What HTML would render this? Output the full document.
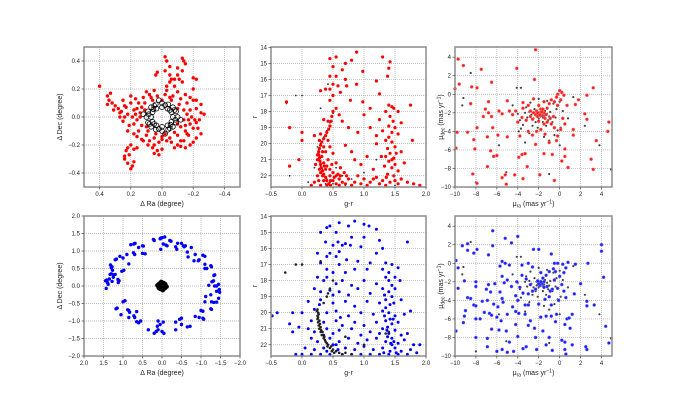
<!DOCTYPE html>
<html><head><meta charset="utf-8"><style>
html,body{margin:0;padding:0;background:#fff;}
svg{display:block;font-family:"Liberation Sans","DejaVu Sans",sans-serif;}
</style></head><body>
<svg id="fig" width="680" height="400" viewBox="0 0 680 400" xmlns="http://www.w3.org/2000/svg"></svg>
<script>
// ---------- DATA ----------
const p1Red = [[0.15,0.1],[0.12,0.14],[0.08,0.16],[0.03,0.15],[-0.02,0.16],[-0.07,0.15],[-0.12,0.13],[-0.16,0.1],[-0.18,0.05],[-0.19,0.0],[-0.18,-0.05],[-0.15,-0.1],[-0.1,-0.13],[-0.05,-0.15],[0.0,-0.14],[0.05,-0.15],[0.1,-0.13],[0.15,-0.1],[0.18,-0.05],[0.19,0.0],[0.18,0.05],[0.13,0.07],[0.11,0.1],[0.06,0.12],[0.0,0.12],[-0.06,0.12],[-0.11,0.09],[-0.14,0.05],[-0.14,-0.02],[-0.12,-0.07],[-0.08,-0.11],[-0.02,-0.12],[0.04,-0.12],[0.09,-0.1],[0.13,-0.06],[0.14,0.0],[0.14,0.03],[0.2,0.1],[0.17,0.13],[0.1,0.18],[0.05,0.19],[-0.03,0.19],[-0.1,0.18],[-0.15,0.16],[-0.2,0.12],[-0.22,0.06],[-0.21,-0.02],[-0.2,-0.08],[-0.17,-0.13],[-0.12,-0.17],[-0.06,-0.18],[0.02,-0.18],[0.08,-0.17],[0.13,-0.16],[0.18,-0.12],[0.21,-0.06],[0.22,0.02],[0.23,0.07],[0.24,0.0],[0.22,-0.1],[0.16,-0.02],[0.16,0.06],[-0.16,0.02],[-0.17,-0.02],[-0.03,0.22],[-0.05,0.25],[-0.08,0.27],[-0.1,0.3],[-0.05,0.3],[-0.02,0.33],[-0.05,0.36],[-0.03,0.4],[-0.02,0.43],[-0.13,0.42],[-0.14,0.4],[-0.15,0.38],[-0.1,0.35],[-0.11,0.27],[-0.13,0.25],[0.03,0.32],[0.04,0.3],[-0.08,0.22],[-0.2,0.28],[-0.22,0.27],[0.33,0.17],[0.35,0.15],[0.34,0.12],[0.32,0.1],[0.3,0.08],[0.35,0.09],[0.28,0.06],[0.31,0.05],[0.4,0.22],[0.24,0.08],[0.26,0.04],[0.27,0.0],[0.25,-0.03],[0.2,-0.2],[0.22,-0.22],[0.18,-0.23],[0.21,-0.27],[0.24,-0.3],[0.22,-0.33],[0.19,-0.35],[0.2,-0.37],[0.18,-0.32],[0.24,-0.28],[0.16,-0.22],[0.12,-0.17],[-0.25,0.03],[-0.27,0.02],[-0.24,-0.02],[-0.22,-0.04],[-0.25,0.09],[-0.22,0.12],[-0.23,-0.08],[-0.25,-0.12],[-0.22,-0.15],[-0.2,-0.18],[-0.18,-0.2],[-0.15,-0.22],[-0.12,-0.21],[-0.1,-0.2],[-0.08,-0.22],[-0.14,-0.17],[-0.16,-0.12],[0.05,-0.2],[0.06,-0.22],[0.03,-0.24],[0.0,-0.23],[0.02,-0.27],[0.05,-0.26],[-0.03,-0.17],[0.09,-0.2],[0.11,0.05],[0.1,-0.07],[-0.1,0.06],[-0.1,-0.05],[0.07,0.14],[-0.05,0.14],[0.0,-0.16],[0.17,0.02],[-0.18,0.14],[0.25,0.12],[0.2,0.15],[-0.06,0.27],[-0.15,-0.06],[0.16,-0.14],[-0.2,0.2],[-0.13,0.33],[0.27,0.03],[0.23,-0.24]];
const posBlack = [[0.1,0],[0.09,0.04],[0.07,0.07],[0.04,0.09],[0,0.1],[-0.04,0.09],[-0.07,0.07],[-0.09,0.04],[-0.1,0],[-0.09,-0.04],[-0.07,-0.07],[-0.04,-0.09],[0,-0.1],[0.04,-0.09],[0.07,-0.07],[0.09,-0.04],[0.07,0],[0.06,0.035],[0.035,0.06],[0,0.07],[-0.035,0.06],[-0.06,0.035],[-0.07,0],[-0.06,-0.035],[-0.035,-0.06],[0,-0.07],[0.035,-0.06],[0.06,-0.035],[0.085,0.02],[0.08,-0.05],[0.05,0.08],[-0.02,0.085],[-0.08,0.05],[-0.085,-0.02],[-0.05,-0.08],[0.02,-0.085],[0.05,-0.05],[-0.05,0.05],[0.055,0.055],[-0.055,-0.055],[0.12,0.02],[-0.12,-0.02],[0.02,0.12],[-0.02,-0.12]];
const p4Blue = [[1.45,0.15],[1.42,0.17],[1.4,0.1],[1.38,0.05],[1.43,-0.07],[1.35,0.2],[1.33,0.33],[1.3,0.35],[1.25,0.32],[1.2,0.33],[1.27,0.45],[1.3,0.52],[1.28,0.55],[1.32,0.6],[1.25,0.25],[1.28,0.13],[1.1,0.15],[1.12,0.1],[1.13,0.19],[1.2,0.75],[1.17,0.77],[1.08,0.85],[1.0,0.8],[0.98,0.45],[1.03,0.42],[0.9,0.9],[0.85,0.63],[0.73,0.95],[0.7,0.9],[0.72,1.2],[0.69,1.22],[0.8,1.18],[0.6,1.1],[0.5,1.15],[0.48,1.14],[0.5,0.93],[0.43,0.92],[0.2,1.3],[0.22,1.33],[0.05,1.35],[0.03,1.37],[0.0,1.38],[-0.07,1.4],[-0.03,1.2],[0.03,1.05],[-0.1,1.17],[-0.13,1.15],[-0.2,1.3],[-0.23,1.28],[-0.35,1.12],[-0.38,1.05],[-0.4,1.22],[-0.5,1.22],[-0.55,1.15],[-0.57,1.12],[-0.6,1.15],[-0.75,1.1],[-0.65,0.97],[-0.67,0.83],[-0.85,0.9],[-0.82,0.72],[-0.93,0.72],[-0.95,0.75],[-1.05,0.88],[-1.1,0.85],[-1.1,0.62],[-1.25,0.58],[-1.27,0.55],[-1.33,0.3],[-1.35,0.32],[-1.1,0.5],[-1.15,0.5],[-1.3,0.13],[-1.32,0.15],[-1.28,0.12],[-1.45,0.05],[-1.4,0.0],[-1.47,-0.1],[-1.48,-0.18],[-1.4,-0.15],[-1.35,0.0],[-1.2,0.02],[-1.25,-0.25],[-1.12,-0.3],[-1.1,-0.45],[-1.27,-0.45],[-1.33,-0.47],[-1.4,-0.46],[-1.45,-0.35],[-1.25,-0.65],[-1.27,-0.67],[-1.0,-0.7],[-1.05,-0.72],[-0.95,-0.9],[-1.05,-0.92],[-1.07,-0.95],[-0.85,-0.87],[-0.72,-1.15],[-0.65,-1.17],[-0.5,-1.1],[-0.45,-0.95],[-0.5,-0.92],[-0.35,-1.03],[-0.35,-1.25],[-0.05,-1.35],[0.0,-1.3],[-0.03,-1.03],[0.05,-1.1],[0.1,-1.25],[0.12,-1.15],[0.15,-1.3],[0.2,-1.35],[0.35,-1.25],[0.1,-1.0],[0.55,-1.0],[0.6,-1.05],[0.65,-1.02],[0.7,-0.9],[0.72,-0.85],[0.85,-0.7],[0.83,-0.75],[0.88,-0.68],[0.85,-0.9],[0.65,-0.73],[0.95,-0.42],[1.0,-0.45],[1.15,-0.63],[1.18,-0.65],[1.05,-0.82]];
const p2Red = [[0.5,18.0],[0.48,18.3],[0.47,18.6],[0.45,18.9],[0.43,19.1],[0.4,19.3],[0.38,19.5],[0.35,19.7],[0.32,19.9],[0.3,20.1],[0.28,20.3],[0.27,20.5],[0.27,20.7],[0.28,20.9],[0.29,21.1],[0.3,21.3],[0.31,21.5],[0.33,21.7],[0.35,21.9],[0.38,22.1],[0.4,22.3],[0.43,22.5],[0.46,22.6],[0.25,21.0],[0.32,20.8],[0.35,21.2],[0.4,21.4],[0.42,21.0],[0.45,21.6],[0.5,21.8],[0.55,22.0],[0.6,22.2],[0.65,22.4],[0.3,21.8],[0.25,22.0],[0.35,22.3],[0.45,22.0],[0.5,22.3],[0.55,22.5],[0.6,22.6],[0.7,22.5],[0.75,22.2],[0.8,22.6],[0.2,22.4],[0.15,22.6],[0.3,22.6],[0.4,22.6],[0.48,21.3],[0.38,20.5],[0.45,20.2],[0.5,20.6],[0.55,21.2],[0.62,21.5],[0.68,21.8],[0.35,20.2],[0.28,19.8],[0.42,19.8],[0.45,14.7],[0.55,14.6],[0.88,14.3],[1.3,14.6],[1.42,14.9],[0.8,14.8],[0.7,15.0],[0.5,15.2],[0.65,15.4],[0.98,15.5],[1.4,15.3],[1.38,15.8],[1.2,16.1],[0.45,15.8],[0.55,15.8],[0.7,16.0],[0.5,16.3],[0.58,16.4],[0.72,16.4],[0.88,16.3],[0.38,16.6],[0.3,16.7],[0.45,16.6],[0.62,16.8],[0.78,17.3],[0.98,17.4],[1.25,16.9],[1.1,17.8],[1.4,17.6],[1.45,17.7],[1.48,17.8],[1.35,18.0],[1.42,18.3],[1.47,18.6],[1.4,18.9],[1.5,19.0],[1.45,19.3],[1.4,19.6],[1.35,19.8],[1.45,19.9],[1.5,20.2],[1.38,20.3],[1.42,20.6],[1.35,20.8],[1.48,20.9],[1.4,21.1],[1.5,21.3],[1.33,21.4],[1.45,21.5],[1.55,21.7],[1.38,21.9],[1.48,22.0],[1.6,22.2],[1.3,22.3],[1.42,22.4],[1.55,22.5],[1.7,22.4],[1.25,22.5],[1.2,22.1],[1.1,22.4],[1.0,22.2],[0.95,22.5],[0.9,22.0],[1.8,22.5],[1.9,22.6],[1.75,17.6],[1.78,19.8],[1.6,20.5],[1.65,21.2],[1.15,21.6],[1.05,20.8],[0.95,21.3],[0.85,21.0],[0.8,20.5],[0.7,20.1],[0.9,19.3],[0.75,19.0],[0.65,18.6],[0.6,18.2],[0.55,17.8],[0.5,17.0],[0.45,17.3],[0.35,18.5],[0.2,19.5],[0.0,19.3],[0.0,19.8],[-0.05,21.0],[-0.2,21.4],[-0.25,17.4],[-0.2,19.0],[1.25,18.5],[1.3,19.2],[1.2,20.0],[1.28,20.8],[1.2,19.5],[1.0,18.2],[1.1,19.0],[1.6,18.7],[1.55,19.4],[1.55,18.0],[0.22,21.3],[0.28,21.6],[0.36,21.4],[0.52,22.1],[0.62,22.0],[0.72,22.0],[1.45,21.0],[1.52,20.6],[1.36,22.1],[0.33,22.0],[0.27,22.3],[0.38,21.6],[0.46,22.3],[0.58,21.9],[0.85,22.4],[1.05,22.6],[1.15,22.2],[1.35,22.6],[1.5,22.3],[0.25,20.7],[0.33,20.5],[0.3,19.4],[0.42,18.6]];
const p2Black = [[0.5,18.1],[0.45,18.7],[0.4,19.2],[0.35,19.6],[0.3,20.0],[0.27,20.4],[0.28,20.8],[0.3,21.2],[0.33,21.6],[0.36,21.9],[0.4,22.2],[0.45,22.4],[0.5,22.5],[0.6,22.6],[0.7,22.6],[0.25,20.2],[0.26,20.6],[0.3,21.4],[0.35,22.0],[-0.1,17.0],[0.0,17.0],[-0.25,17.5],[0.3,17.8],[0.42,16.3],[0.55,21.5],[0.65,22.0],[0.38,22.5],[1.0,21.8],[0.8,22.2],[1.2,21.0],[1.5,22.6],[0.2,21.5],[-0.2,22.0],[0.1,22.4]];
const p5Blue = [[0.85,14.3],[0.6,14.4],[0.45,14.6],[0.4,14.7],[0.75,14.6],[1.0,14.5],[1.08,14.6],[1.2,14.8],[0.3,15.0],[0.55,15.0],[0.8,15.3],[1.0,15.3],[1.25,15.5],[1.7,15.6],[0.38,15.6],[0.5,15.8],[0.58,15.6],[0.65,15.8],[0.7,15.7],[0.78,15.8],[0.95,15.9],[1.3,16.0],[1.2,16.3],[0.25,16.3],[0.4,16.5],[0.45,16.3],[0.55,16.5],[0.6,16.2],[0.72,16.7],[0.9,16.8],[1.1,16.9],[1.35,16.9],[1.45,17.0],[0.3,16.9],[0.4,17.3],[0.5,17.5],[0.6,17.0],[0.7,17.5],[0.85,17.3],[1.05,17.3],[1.3,17.3],[1.4,17.5],[1.5,17.8],[1.55,17.2],[0.25,17.8],[0.35,18.0],[0.55,18.2],[0.65,18.0],[0.8,18.3],[1.0,18.0],[1.2,18.2],[1.35,17.8],[1.45,18.3],[1.58,18.0],[0.2,18.5],[0.3,18.7],[0.45,18.6],[0.6,18.7],[0.75,18.9],[0.9,18.5],[1.1,18.8],[1.3,18.5],[1.4,18.7],[1.5,18.5],[1.45,19.0],[0.1,19.3],[0.3,19.2],[0.5,19.4],[0.7,19.3],[0.85,19.6],[1.05,19.3],[1.25,19.4],[1.35,19.2],[1.48,19.4],[1.6,19.2],[0.0,20.0],[-0.15,20.0],[-0.48,20.2],[-0.4,20.0],[0.2,19.8],[0.4,20.0],[0.55,19.9],[0.75,20.2],[0.95,20.0],[1.15,20.1],[1.3,19.9],[1.4,20.0],[1.5,20.2],[1.65,20.1],[1.75,19.9],[0.15,20.5],[0.35,20.6],[0.55,20.5],[0.65,20.8],[0.85,20.6],[1.0,20.8],[1.2,20.6],[1.35,20.5],[1.45,20.7],[1.55,20.6],[-0.2,20.7],[-0.05,20.9],[0.1,21.0],[0.2,21.2],[0.4,21.0],[0.5,21.3],[0.6,21.1],[0.8,21.0],[0.95,21.4],[1.1,21.2],[1.3,21.0],[1.4,21.3],[1.5,21.1],[1.6,21.4],[1.7,21.3],[-0.15,21.2],[0.15,21.6],[0.25,21.8],[0.45,21.6],[0.6,21.8],[0.75,21.6],[0.9,21.9],[1.05,21.7],[1.2,21.6],[1.35,21.8],[1.45,21.6],[1.55,21.9],[1.65,21.7],[1.8,22.0],[1.9,22.0],[0.05,22.2],[0.2,22.3],[0.35,22.2],[0.55,22.0],[0.7,22.2],[0.85,22.3],[1.0,22.1],[1.15,22.3],[1.3,22.2],[1.42,22.4],[1.5,22.2],[1.6,22.4],[1.75,22.3],[1.85,22.5],[-0.1,22.6],[0.0,22.6],[0.15,22.6],[0.3,22.6],[0.45,22.6],[0.65,22.6],[0.8,22.6],[0.95,22.6],[1.1,22.6],[1.25,22.6],[1.4,22.6],[1.55,22.6],[1.7,22.6],[1.35,19.7],[1.42,20.4],[1.38,21.5],[1.45,22.0],[1.4,18.0],[1.33,18.9],[0.4,17.8],[0.5,18.9],[0.28,19.5],[1.38,20.9],[1.48,21.8],[1.32,22.5],[1.42,19.5],[0.58,22.3],[0.4,22.4],[1.25,21.3],[1.37,21.1],[1.47,20.4],[1.43,21.9],[1.52,22.5],[1.33,20.2],[0.5,22.0],[0.62,20.3],[0.35,21.4]];
const p5Black = [[0.25,19.8],[0.26,20.0],[0.25,20.2],[0.25,20.4],[0.26,20.6],[0.27,20.8],[0.28,21.0],[0.3,21.2],[0.32,21.4],[0.35,21.6],[0.38,21.8],[0.42,22.0],[0.45,22.2],[0.5,22.3],[0.55,22.4],[0.6,22.5],[0.7,22.5],[0.8,22.6],[0.27,20.1],[0.28,20.5],[0.3,20.9],[0.33,21.2],[0.36,21.5],[0.4,21.9],[0.47,22.1],[0.52,22.5],[0.4,19.0],[0.45,18.5],[0.5,18.0],[0.42,18.8],[0.35,19.4],[0.0,17.0],[-0.1,17.0],[-0.27,17.5],[0.3,16.8],[1.35,21.3],[1.4,21.2],[1.0,22.0],[0.7,21.5],[0.24,19.9],[0.26,20.3],[0.29,20.7],[0.31,21.1],[0.34,21.4],[0.37,21.7],[0.41,22.1],[0.48,22.4],[0.65,22.6]];
const p3Red = [[-9.7,3.8],[-9.2,3.1],[-7.5,2.7],[-4.1,2.8],[-2.3,4.8],[-9.6,1.1],[-8.4,0.8],[-7.9,0.7],[-6.5,1.3],[-2.4,1.6],[-10,0.6],[-8.5,-1.0],[-6.8,-0.8],[-5.0,-0.7],[-7.1,-1.6],[-6.8,-2.0],[-5.8,-1.8],[-4.8,-1.8],[-7.3,-2.4],[-6.5,-2.4],[-5.5,-2.1],[-9.8,-4.1],[-8.8,-4.1],[-7.9,-3.6],[-6.4,-3.6],[-8.2,-4.9],[-9.9,-5.8],[-8.1,-5.9],[-6.9,-4.6],[-5.9,-4.4],[-5.0,-4.6],[-6.6,-6.1],[-6.3,-6.7],[-6.0,-6.6],[-6.9,-7.8],[-8.3,-8.6],[-7.9,-9.6],[-5.5,-9.0],[-5.2,-8.7],[-5.1,-9.7],[-4.3,-8.7],[-3.5,-9.1],[-3.9,-6.8],[-3.6,-6.5],[-3.3,-6.4],[-3.1,-7.8],[-1.9,-8.7],[-0.5,-9.3],[-1.5,-6.4],[-1.0,-5.2],[-0.3,-5.0],[0.2,-7.2],[0.5,-6.7],[0.8,-7.9],[-2.3,-5.4],[-2.6,-4.4],[-3.0,-4.0],[-3.8,-4.5],[-4.0,-3.0],[-3.6,-2.5],[-3.2,-2.8],[-4.2,-1.8],[-3.5,-1.5],[-3.0,-1.2],[-2.8,-1.8],[-2.5,-2.0],[-2.3,-2.2],[-2.1,-2.4],[-1.9,-2.0],[-1.7,-2.3],[-1.5,-2.0],[-1.3,-2.2],[-1.8,-1.6],[-2.0,-1.2],[-1.5,-0.8],[-1.2,-1.5],[-1.0,-1.0],[-0.8,-0.6],[-0.5,-0.8],[-0.2,-1.2],[0,0.4],[0.2,0.2],[0.4,-0.1],[0.1,-0.6],[-0.3,-0.3],[-0.6,-2.4],[-0.9,-2.6],[-1.2,-3.0],[-1.5,-3.2],[-2.0,-2.9],[-2.6,-2.7],[-2.8,-2.4],[-2.2,-1.8],[-1.6,-1.6],[-1.4,-2.6],[-0.8,-3.2],[-0.5,-3.6],[0.1,-3.8],[0.5,-3.2],[0.3,-2.6],[-0.2,-4.5],[-1.4,-4.3],[-1.8,-3.8],[-2.2,-4.0],[1.3,-3.8],[1.3,-4.4],[1.5,-1.1],[1.8,-0.6],[2.6,-0.1],[3.2,0.7],[2.4,-2.1],[2.6,-2.7],[4.7,-3.0],[4.6,-4.0],[3.5,-5.0],[3.0,-7.0],[3.2,-8.1],[-0.7,-6.5],[0.5,-5.9],[-2.5,-0.5],[-3.5,-0.9],[-4.5,-2.2],[0.7,-1.2],[-0.2,0.0],[-1.9,-2.2],[-1.7,-1.9],[-2.1,-2.0]];
const pmBlack = [[-8.5,2.3],[-9.2,-0.4],[-9.3,-1.2],[-8.0,-9.5],[-5.8,-5.5],[-4.1,0.7],[-3.7,0.7],[-4.5,-1.2],[-4.0,-2.1],[-3.8,-2.8],[-3.5,-3.3],[-3.7,-3.7],[-3.9,-4.0],[-3.3,-2.0],[-3.1,-2.5],[-2.9,-1.9],[-2.7,-2.2],[-2.5,-2.6],[-2.4,-1.6],[-2.2,-2.0],[-2.1,-2.3],[-2.0,-2.6],[-1.9,-2.1],[-1.8,-1.9],[-1.7,-2.2],[-1.6,-2.5],[-1.5,-2.3],[-1.4,-1.8],[-1.2,-2.1],[-1.0,-2.4],[-0.9,-1.9],[-1.1,-2.8],[-1.6,-3.0],[-2.3,-3.0],[-2.6,-3.4],[-2.1,-3.6],[-1.3,-3.4],[-0.7,-3.0],[-0.4,-2.5],[-0.3,-1.6],[-0.6,-1.0],[-1.2,-0.7],[-2.0,-0.5],[-2.8,-0.9],[-3.2,-1.4],[0.0,-0.8],[0.3,-1.8],[0.8,-2.6],[1.3,-0.3],[0.1,-3.6],[-0.2,-3.9],[-0.5,-4.4],[-1.5,-4.6],[-2.9,-4.2],[-3.3,-5.2],[-1.0,-5.0],[0.0,-5.5],[3.8,-5.5],[2.4,-3.4],[-1.0,-8.6],[4.9,-8.1],[-5.1,-8.4],[-2.0,-2.2],[-1.8,-2.4],[-2.2,-2.4],[-1.6,-2.1]];
const p6Blue = [[-6.4,3.5],[-5.2,2.7],[-4.6,2.2],[-4.0,2.9],[-9.3,1.9],[-8.8,2.1],[-6.4,1.9],[-8.8,1.4],[-8.2,1.1],[-7.9,1.5],[-6.8,0.9],[-9.9,0.3],[-5.5,0.2],[-5.2,0.0],[-3.0,0.0],[-2.5,1.5],[-2.0,1.5],[-0.8,1.0],[-0.5,0.0],[-0.2,0.0],[0.3,-0.1],[2.7,0.0],[4.0,2.0],[4.0,1.3],[4.2,-1.5],[-9.1,-1.9],[-9.7,-2.7],[-8.0,-2.0],[-6.8,-2.3],[-6.2,-2.2],[-5.3,-2.1],[-5.0,-1.8],[-5.5,-1.4],[-5.7,-0.3],[-4.8,-0.2],[-3.6,-0.2],[-4.6,-2.5],[-3.8,-2.6],[-6.6,-3.1],[-5.7,-3.1],[-4.2,-3.5],[-3.5,-3.2],[-3.0,-3.3],[-2.6,-3.0],[-8.8,-3.7],[-8.5,-3.8],[-7.4,-4.1],[-6.9,-4.0],[-5.9,-4.7],[-5.4,-4.2],[-4.5,-4.7],[-4.0,-4.0],[-3.3,-4.5],[-3.0,-4.5],[-8.2,-4.5],[-8.0,-4.6],[-9.0,-5.1],[-9.1,-5.7],[-9.2,-6.4],[-7.2,-5.3],[-6.7,-5.4],[-6.5,-5.6],[-6.0,-5.8],[-5.6,-6.2],[-5.0,-5.5],[-4.2,-5.2],[-3.9,-5.4],[-3.3,-5.5],[-2.8,-6.2],[-1.8,-5.8],[-1.3,-5.7],[-0.8,-5.7],[-0.4,-6.3],[-0.3,-5.5],[0.7,-6.0],[0.5,-6.6],[0.9,-5.9],[1.0,-7.0],[0.2,-8.3],[0.5,-8.5],[0.5,-9.3],[0.6,-9.8],[-0.7,-9.4],[-1.3,-8.8],[-2.2,-9.3],[-3.2,-9.0],[-3.5,-9.2],[-4.0,-7.9],[-5.1,-7.3],[-6.5,-7.1],[-6.9,-8.1],[-6.9,-9.0],[-6.0,-9.5],[-5.5,-9.3],[-5.0,-9.6],[-8.0,-8.0],[-9.9,-7.3],[-4.2,-6.6],[-3.0,-6.7],[-2.4,-7.0],[-1.6,-7.3],[-2.3,-8.0],[-1.0,-8.0],[1.2,-8.8],[2.5,-9.0],[2.6,-9.3],[4.7,-8.6],[4.4,-6.8],[2.6,-4.6],[2.6,-4.1],[3.3,-4.5],[1.2,-5.5],[2.0,-2.2],[1.4,-3.3],[0.4,-3.0],[0.2,-2.3],[-0.2,-2.7],[0.0,-1.4],[-0.5,-1.8],[-0.7,-2.8],[-1.0,-3.6],[-1.4,-3.9],[-1.5,-2.0],[-1.7,-2.2],[-1.9,-2.4],[-2.1,-1.9],[-1.6,-1.6],[-1.3,-1.3],[-1.0,-0.9],[-0.6,-0.6],[-0.4,-0.9],[0.6,-0.5],[0.4,-1.0],[-2.3,-2.8],[-2.8,-2.3],[-3.2,-1.7],[-3.6,-1.3],[-4.1,-2.0],[-2.6,-0.4],[-2.0,-4.4],[-0.8,-4.5],[-0.1,-4.0],[0.6,-3.7],[-5.5,-3.8],[-6.3,-4.4],[-7.0,-2.8],[-8.0,-2.5],[-9.7,-0.5],[-5.8,-7.2],[-4.8,-8.5],[-4.4,-9.5],[-7.6,-6.0],[-8.0,-6.0],[-1.8,-1.0],[-1.2,-2.5],[-0.9,-3.0],[1.5,-0.1],[0.8,0.1],[-1.8,-2.0],[-2.0,-2.2],[-1.5,-2.6]];

const posTicks1 = [0.4,0.2,0.0,-0.2,-0.4];
const posTicks4 = [2.0,1.5,1.0,0.5,0.0,-0.5,-1.0,-1.5,-2.0];
const cmdXTicks = [-0.5,0.0,0.5,1.0,1.5,2.0];
const cmdYTicks = [14,15,16,17,18,19,20,21,22];
const pmXTicks = [-10,-8,-6,-4,-2,0,2,4];
const pmYTicks = [-10,-8,-6,-4,-2,0,2,4];

// ---------- RENDER ----------
const NS = "http://www.w3.org/2000/svg";
const svg = document.getElementById('fig');
function mk(tag, attrs, parent){const e=document.createElementNS(NS,tag);for(const k in attrs)e.setAttribute(k,attrs[k]);(parent||svg).appendChild(e);return e;}
function fmt(v,d){return (v<0?'\u2212':'')+Math.abs(v).toFixed(d);}

function panel(cfg){
  const g = mk('g',{});
  
  
  const {L,T,W,H} = cfg;
  const sx = v => L + (v-cfg.x0)/(cfg.x1-cfg.x0)*W;
  const sy = v => T + (v-cfg.y0)/(cfg.y1-cfg.y0)*H;
  const grid = mk('g',{},g);
  
  
  cfg.xt.forEach(v=>{const x=sx(v); if(x>L+0.5&&x<L+W-0.5) mk('line',{x1:x,x2:x,y1:T,y2:T+H,stroke:'#a8a8a8','stroke-width':0.7,'stroke-dasharray':'1,1'},grid);});
  cfg.yt.forEach(v=>{const y=sy(v); if(y>T+0.5&&y<T+H-0.5) mk('line',{x1:L,x2:L+W,y1:y,y2:y,stroke:'#a8a8a8','stroke-width':0.7,'stroke-dasharray':'1,1'},grid);});
  cfg.series.forEach(s=>{
    const sg = mk('g',{},g);
    
    
    s.data.forEach(p=>{
      const x=sx(p[0]), y=sy(p[1]);
      if(x<L-1||x>L+W+1||y<T-1||y>T+H+1) return;
      let c;
      if(s.hollow) c = mk('circle',{cx:x.toFixed(1),cy:y.toFixed(1),r:s.r,fill:'none',stroke:s.color,'stroke-width':s.sw||0.6},sg);
      else c = mk('circle',{cx:x.toFixed(1),cy:y.toFixed(1),r:s.r,fill:s.color,stroke:s.stroke||'none','stroke-width':0.4},sg);
      
      
    });
  });
  const fr = mk('rect',{x:L,y:T,width:W,height:H,fill:'none',stroke:'#8c8c8c','stroke-width':1.5},g);
  
  
  cfg.xt.forEach(v=>{const x=sx(v);
    mk('line',{x1:x,x2:x,y1:T+H,y2:T+H+2.5,stroke:'#333','stroke-width':0.6},g);
    const t=mk('text',{x:x,y:T+H+9,'font-size':6,'text-anchor':'middle',fill:'#222'},g);t.textContent=fmt(v,cfg.xd);
    
    
  });
  cfg.yt.forEach(v=>{const y=sy(v);
    mk('line',{x1:L-2.5,x2:L,y1:y,y2:y,stroke:'#333','stroke-width':0.6},g);
    const t=mk('text',{x:L-4,y:y+2,'font-size':6,'text-anchor':'end',fill:'#222'},g);t.textContent=fmt(v,cfg.yd);
    
    
  });
  const xl=mk('text',{x:L+W/2,y:T+H+19,'font-size':7,'text-anchor':'middle',fill:'#222'},g);
  xl.innerHTML=cfg.xlab;
  
  
  const yx=L-cfg.ylOff, yy=T+H/2;
  const yl=mk('text',{x:yx,y:yy,'font-size':7,'text-anchor':'middle',fill:'#222',transform:`rotate(-90 ${yx} ${yy})`},g);
  yl.innerHTML=cfg.ylab;
  
  
}

const muRa = 'μ<tspan font-size="5" dy="1.5">ra</tspan><tspan dy="-1.5"> (mas yr</tspan><tspan font-size="5" dy="-2.5">−1</tspan><tspan dy="2.5">)</tspan>';
const muDec = 'μ<tspan font-size="5" dy="1.5">dec</tspan><tspan dy="-1.5"> (mas yr</tspan><tspan font-size="5" dy="-2.5">−1</tspan><tspan dy="2.5">)</tspan>';

panel({name:'position-panel-top',L:84,T:47,W:156,H:140,x0:0.5,x1:-0.5,y0:0.5,y1:-0.5,xt:posTicks1,yt:posTicks1,xd:1,yd:1,xlab:'Δ Ra (degree)',ylab:'Δ Dec (degree)',ylOff:22,
  series:[{name:'members-red',data:p1Red,color:'#ff0000',r:1.7},{name:'cluster-black',data:posBlack,color:'#000',r:2.4,hollow:true,sw:0.8}]});
panel({name:'cmd-panel-top',L:271,T:47,W:155,H:140,x0:-0.5,x1:2.0,y0:13.98,y1:22.7,xt:cmdXTicks,yt:cmdYTicks,xd:1,yd:0,xlab:'g-r',ylab:'r',ylOff:14,
  series:[{name:'cmd-black-top',data:p2Black,color:'#333',r:0.9},{name:'cmd-red',data:p2Red,color:'#ff0000',r:1.6}]});
panel({name:'pm-panel-top',L:455,T:47,W:157,H:140,x0:-10,x1:5,y0:5.1,y1:-10,xt:pmXTicks,yt:pmYTicks,xd:0,yd:0,xlab:muRa,ylab:muDec,ylOff:12,
  series:[{name:'pm-black-top',data:pmBlack,color:'#444',r:1.1},{name:'pm-red',data:p3Red,color:'#ff2020',r:1.6,stroke:'#ff9090'}]});
panel({name:'position-panel-bottom',L:84,T:216,W:156,H:140,x0:2,x1:-2,y0:2,y1:-2,xt:posTicks4,yt:posTicks4,xd:1,yd:1,xlab:'Δ Ra (degree)',ylab:'Δ Dec (degree)',ylOff:22,
  series:[{name:'field-blue',data:p4Blue,color:'#0000ff',r:1.7},{name:'cluster-black-bottom',data:posBlack,color:'#000',r:1.6,hollow:true,sw:1.2}]});
panel({name:'cmd-panel-bottom',L:271,T:216,W:155,H:140,x0:-0.5,x1:2.0,y0:13.98,y1:22.7,xt:cmdXTicks,yt:cmdYTicks,xd:1,yd:0,xlab:'g-r',ylab:'r',ylOff:14,
  series:[{name:'cmd-blue',data:p5Blue,color:'#0000ff',r:1.5},{name:'cmd-black-bottom',data:p5Black,color:'#222',r:1.3}]});
panel({name:'pm-panel-bottom',L:455,T:216,W:157,H:140,x0:-10,x1:5,y0:5.1,y1:-10,xt:pmXTicks,yt:pmYTicks,xd:0,yd:0,xlab:muRa,ylab:muDec,ylOff:12,
  series:[{name:'pm-black-bottom',data:pmBlack,color:'#444',r:1.1},{name:'pm-blue',data:p6Blue,color:'#2020ff',r:1.6,stroke:'#9090ff'}]});
</script>
</body></html>
